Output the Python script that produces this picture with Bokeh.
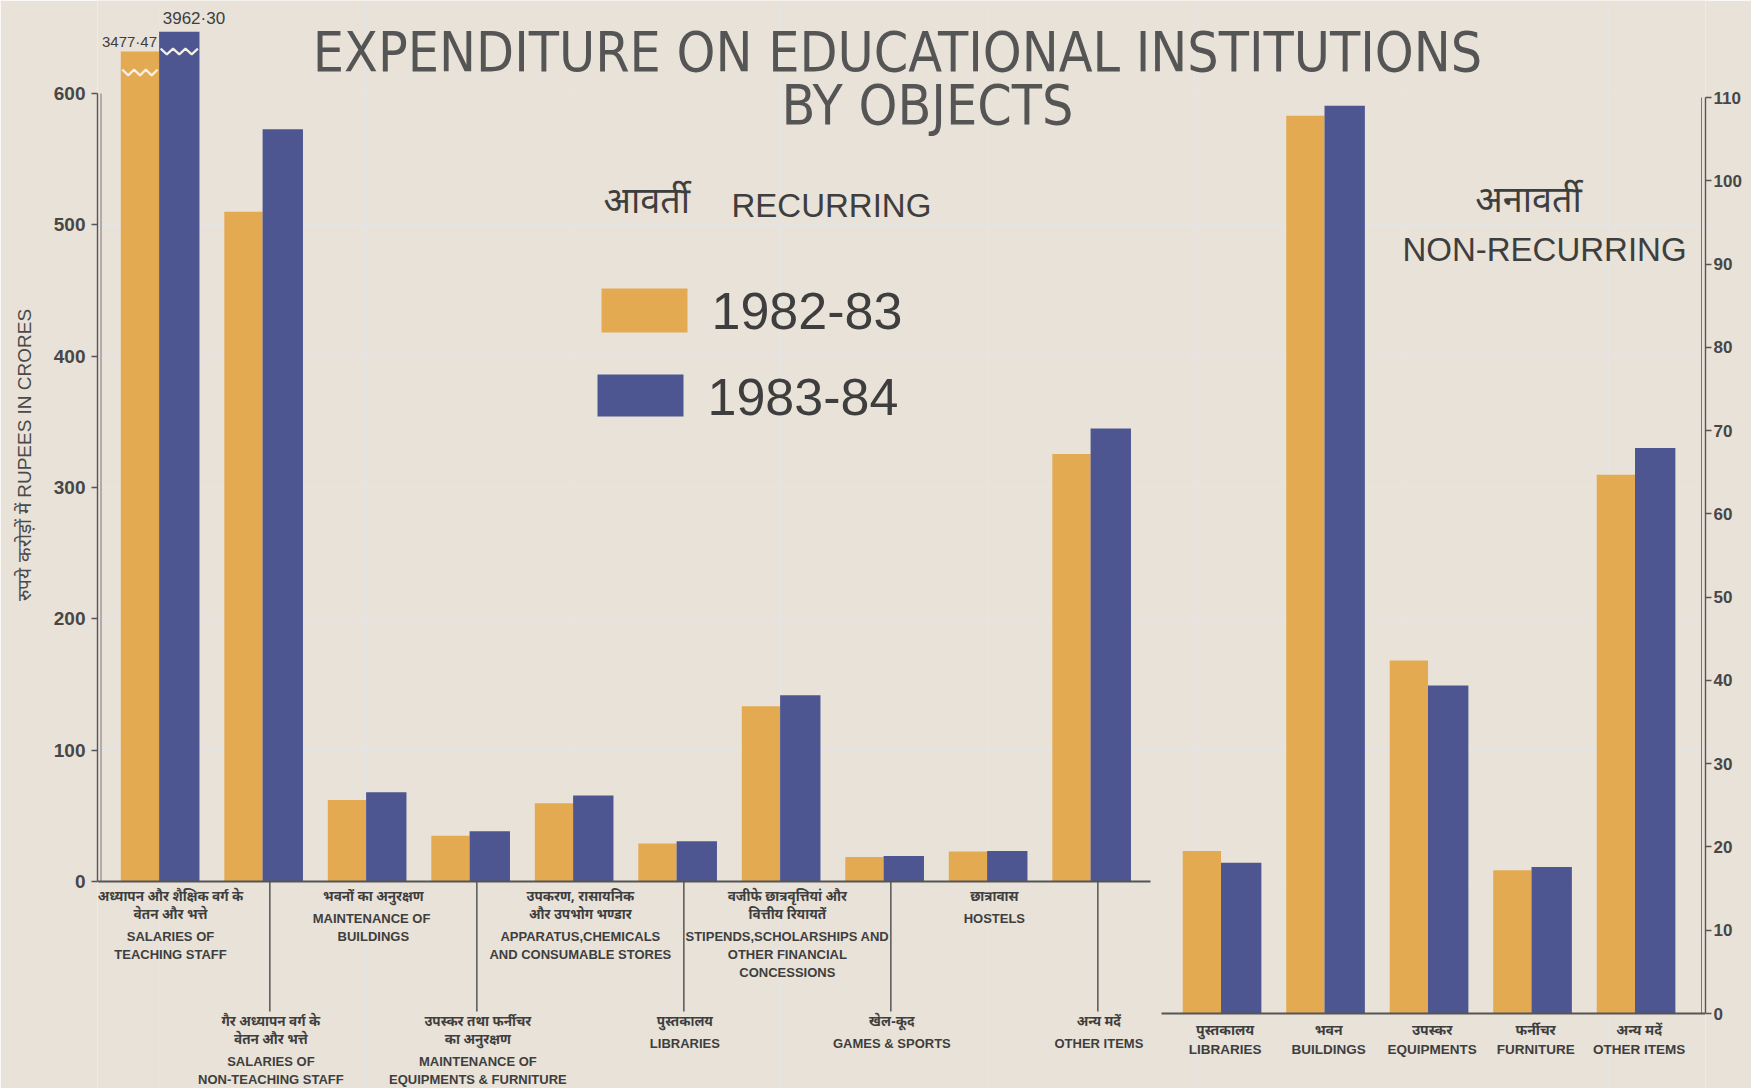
import numpy as np
from bokeh.plotting import figure
from bokeh.models import Range1d, LinearAxis, FixedTicker, ColumnDataSource
from bokeh.core.properties import value
from bokeh.embed import file_html
from bokeh.resources import INLINE

# ---------------- data ----------------
years = ["1982-83", "1983-84"]

recurring_hi = [
    ["अध्यापन और शैक्षिक वर्ग के", "वेतन और भत्ते"],
    ["गैर अध्यापन वर्ग के", "वेतन और भत्ते"],
    ["भवनों का अनुरक्षण"],
    ["उपस्कर तथा फर्नीचर", "का अनुरक्षण"],
    ["उपकरण, रासायनिक", "और उपभोग भण्डार"],
    ["पुस्तकालय"],
    ["वजीफे छात्रवृत्तियां और", "वित्तीय रियायतें"],
    ["खेल-कूद"],
    ["छात्रावास"],
    ["अन्य मदें"],
]
recurring_en = [
    ["SALARIES OF", "TEACHING STAFF"],
    ["SALARIES OF", "NON-TEACHING STAFF"],
    ["MAINTENANCE  OF", "BUILDINGS"],
    ["MAINTENANCE OF", "EQUIPMENTS & FURNITURE"],
    ["APPARATUS,CHEMICALS", "AND CONSUMABLE STORES"],
    ["LIBRARIES"],
    ["STIPENDS,SCHOLARSHIPS AND", "OTHER FINANCIAL", "CONCESSIONS"],
    ["GAMES & SPORTS"],
    ["HOSTELS"],
    ["OTHER ITEMS"],
]
recurring_1982_83 = [3477.47, 509.9, 62.0, 34.8, 59.5, 28.9, 133.4, 18.7, 22.9, 325.5]
recurring_1983_84 = [3962.30, 572.8, 68.0, 38.2, 65.4, 30.6, 141.9, 19.5, 23.2, 345.0]

nonrecurring_hi = ["पुस्तकालय", "भवन", "उपस्कर", "फर्नीचर", "अन्य मदें"]
nonrecurring_en = ["LIBRARIES", "BUILDINGS", "EQUIPMENTS", "FURNITURE", "OTHER ITEMS"]
nonrecurring_1982_83 = [19.5, 107.8, 42.4, 17.2, 64.7]
nonrecurring_1983_84 = [18.1, 109.0, 39.4, 17.6, 67.9]

left_ticks = [0, 100, 200, 300, 400, 500, 600]
right_ticks = [0, 10, 20, 30, 40, 50, 60, 70, 80, 90, 100, 110]
y_title = "रुपये करोड़ों में   RUPEES IN CRORES"

# ---------------- style / layout ----------------
PAPER = "#E9E2D8"
ZIG = "#F3EEE6"
ORANGE = "#E3AA52"
BLUE = "#4D5691"
INK = "#3E3E3E"
FONT = "Liberation Sans, Arial, sans-serif"
FONT_N = "Liberation Sans Narrow, DejaVu Sans Condensed, Liberation Sans, sans-serif"
FONT_HI = "Noto Sans Devanagari, Lohit Devanagari, Noto Sans, sans-serif"

W, H = 1751, 1088
FL, FR = 97, 1705          # frame left/right on canvas
PXX = 103.5                # px per group
X0 = -(158.6 - FL) / PXX
X1 = X0 + (FR - FL) / PXX
LBASE, PXY = 881, 788 / 600.0
Y1, Y0 = LBASE / PXY, -(H - LBASE) / PXY
RBASE, PXR = 1013, 916 / 110.0
R1, R0 = RBASE / PXR, -(H - RBASE) / PXR

def sx(px):  # canvas px -> x data
    return X0 + (px - FL) / PXX

def sy(py):  # canvas px -> left y data
    return (LBASE - py) / PXY

def sr(py):  # canvas px -> right y data
    return (RBASE - py) / PXR

BREAK_AT = [632.0, 647.0]   # drawn height of broken bars (left-axis units)
RIGHT_OFFSET = 10.26
OW, BW = 0.37, 0.39
YLABEL_PAD = "\u00a0" * 36  # lifts the centred axis title towards the top

p = figure(width=W, height=H, output_backend="svg", toolbar_location=None,
           x_axis_location=None, y_axis_location=None,
           x_range=Range1d(X0, X1), y_range=Range1d(Y0, Y1),
           min_border=0, min_border_left=FL, min_border_right=W - FR,
           background_fill_color=PAPER, border_fill_color=PAPER,
           outline_line_color=None)
p.extra_y_ranges = {"r": Range1d(R0, R1)}

# ---------------- axes ----------------
ax_l = LinearAxis(bounds=(0, 600), ticker=FixedTicker(ticks=left_ticks))
ax_r = LinearAxis(y_range_name="r", bounds=(0, 110), ticker=FixedTicker(ticks=right_ticks))
for ax, fs, st in ((ax_l, "19px", 6), (ax_r, "17px", 2)):
    ax.major_tick_in = 0
    ax.major_tick_out = 6
    ax.minor_tick_line_color = None
    ax.axis_line_color = "#555555"
    ax.axis_line_width = 1.4
    ax.major_tick_line_color = "#555555"
    ax.major_tick_line_width = 1.4
    ax.major_label_text_font = FONT
    ax.major_label_text_font_size = fs
    ax.major_label_text_font_style = "bold"
    ax.major_label_text_color = "#474747"
    ax.major_label_standoff = st
ax_l.axis_label = YLABEL_PAD + y_title
ax_l.axis_label_text_font = FONT
ax_l.axis_label_text_font_size = "19px"
ax_l.axis_label_text_font_style = "normal"
ax_l.axis_label_text_color = "#4A4A4A"
ax_l.axis_label_standoff = 16
p.add_layout(ax_l, "left")
p.add_layout(ax_r, "right")
# second rule of the double axis lines
p.segment(x0=[X0 + 3.5 / PXX], x1=[X0 + 3.5 / PXX], y0=[0], y1=[600],
          line_color="#777777", line_width=1)
p.segment(x0=[X1 - 4 / PXX], x1=[X1 - 4 / PXX], y0=[0], y1=[110],
          line_color="#777777", line_width=1, y_range_name="r")

# ---------------- bars ----------------
xl = np.arange(len(recurring_1982_83), dtype=float)
xr = RIGHT_OFFSET + np.arange(len(nonrecurring_1982_83), dtype=float)

o_draw = np.minimum(recurring_1982_83, BREAK_AT[0])
b_draw = np.minimum(recurring_1983_84, BREAK_AT[1])
src_l = ColumnDataSource(dict(xo=xl - OW / 2, xb=xl + BW / 2, o=o_draw, b=b_draw))
src_r = ColumnDataSource(dict(xo=xr - OW / 2, xb=xr + BW / 2,
                              o=nonrecurring_1982_83, b=nonrecurring_1983_84))
p.vbar(x="xo", width=OW, top="o", bottom=0, source=src_l, fill_color=ORANGE, line_color=None)
p.vbar(x="xb", width=BW, top="b", bottom=0, source=src_l, fill_color=BLUE, line_color=None)
p.vbar(x="xo", width=OW, top="o", bottom=0, source=src_r, fill_color=ORANGE,
       line_color=None, y_range_name="r")
p.vbar(x="xb", width=BW, top="b", bottom=0, source=src_r, fill_color=BLUE,
       line_color=None, y_range_name="r")

# break marks and values of the broken bars
for series, draw, xc, w, drop, s in (
        (recurring_1982_83, o_draw, xl - OW / 2, OW, 16.0, 0),
        (recurring_1983_84, b_draw, xl + BW / 2, BW, 15.0, 1)):
    for i, v in enumerate(series):
        if v > BREAK_AT[s]:
            zx = np.linspace(xc[i] - w / 2 + 0.015, xc[i] + w / 2 - 0.015, 7)
            zy = draw[i] - drop + np.array([1, -1, 1, -1, 1, -1, 1]) * 2.2
            p.line(zx, zy, line_color=ZIG, line_width=2.2)
            txt = f"{v:.2f}".replace(".", "·")
            if s == 0:
                p.text(x=[xl[i] - 0.02], y=[draw[i] + 1.0], text=[txt], text_align="right",
                       text_baseline="bottom", text_font=value(FONT), text_font_size="15px",
                       text_color=INK)
            else:
                p.text(x=[xl[i] + 0.035], y=[draw[i] + 3.0], text=[txt], text_align="left",
                       text_baseline="bottom", text_font=value(FONT), text_font_size="17px",
                       text_color=INK)

# base lines
p.segment(x0=[X0], x1=[sx(1150)], y0=[0], y1=[0], line_color="#555555", line_width=2)
p.segment(x0=[sx(1161)], x1=[X1], y0=[0], y1=[0], line_color="#555555", line_width=2,
          y_range_name="r")

# ---------------- category labels ----------------
hx, hy, ht, ex, ey, et = [], [], [], [], [], []
lead_x = []
for i in range(len(xl)):
    lower = (i % 2 == 1)
    py = 1022 if lower else 897
    cx = xl[i] + (0.08 if lower else (0.11 if i == 0 else 0.07))
    for t in recurring_hi[i]:
        hx.append(cx); hy.append(sy(py)); ht.append(t); py += 18.5
    py += 2
    for t in recurring_en[i]:
        ex.append(cx); ey.append(sy(py)); et.append(t); py += 18
    if lower:
        lead_x.append(xl[i] + 0.07)
p.text(x=hx, y=hy, text=ht, text_align="center", text_baseline="middle",
       text_font=value(FONT_HI), text_font_size="13.5px", text_font_style="bold", text_color=INK)
p.text(x=ex, y=ey, text=et, text_align="center", text_baseline="middle",
       text_font=value(FONT), text_font_size="13px", text_font_style="bold", text_color=INK)
p.segment(x0=lead_x, x1=lead_x, y0=[0] * len(lead_x), y1=[sy(1011)] * len(lead_x),
          line_color="#555555", line_width=1.5)

p.text(x=list(xr + 0.04), y=[sr(1031)] * len(xr), text=nonrecurring_hi, text_align="center",
       text_baseline="middle", text_font=value(FONT_HI), text_font_size="14px",
       text_font_style="bold", text_color=INK, y_range_name="r")
p.text(x=list(xr + 0.04), y=[sr(1049)] * len(xr), text=nonrecurring_en, text_align="center",
       text_baseline="middle", text_font=value(FONT), text_font_size="13.5px",
       text_font_style="bold", text_color=INK, y_range_name="r")

# ---------------- titles & headings ----------------
p.text(x=[sx(897)], y=[sy(51)], text=["EXPENDITURE ON EDUCATIONAL INSTITUTIONS"],
       text_align="center", text_baseline="middle", text_font=value(FONT_N),
       text_font_size="55px", text_color="#555555")
p.text(x=[sx(927)], y=[sy(104)], text=["BY OBJECTS"],
       text_align="center", text_baseline="middle", text_font=value(FONT_N),
       text_font_size="55px", text_color="#555555")

p.text(x=[sx(603)], y=[sy(204)], text=["आवर्ती"], text_align="left", text_baseline="middle",
       text_font=value(FONT_HI), text_font_size="36px", text_color=INK)
p.text(x=[sx(731)], y=[sy(205)], text=["RECURRING"], text_align="left", text_baseline="middle",
       text_font=value(FONT), text_font_size="33px", text_color=INK)
p.text(x=[sx(1528)], y=[sy(203)], text=["अनावर्ती"], text_align="center", text_baseline="middle",
       text_font=value(FONT_HI), text_font_size="36px", text_color=INK)
p.text(x=[sx(1544)], y=[sy(249)], text=["NON-RECURRING"], text_align="center",
       text_baseline="middle", text_font=value(FONT), text_font_size="33px", text_color=INK)

# legend
p.quad(left=[sx(601), sx(597)], right=[sx(687), sx(683)],
       bottom=[sy(332), sy(416)], top=[sy(288), sy(374)],
       fill_color=[ORANGE, BLUE], line_color=None)
p.text(x=[sx(711), sx(707)], y=[sy(310), sy(396)], text=years, text_align="left",
       text_baseline="middle", text_font=value(FONT), text_font_size="52px", text_color=INK)

open("out.html", "w").write(file_html(p, INLINE))
